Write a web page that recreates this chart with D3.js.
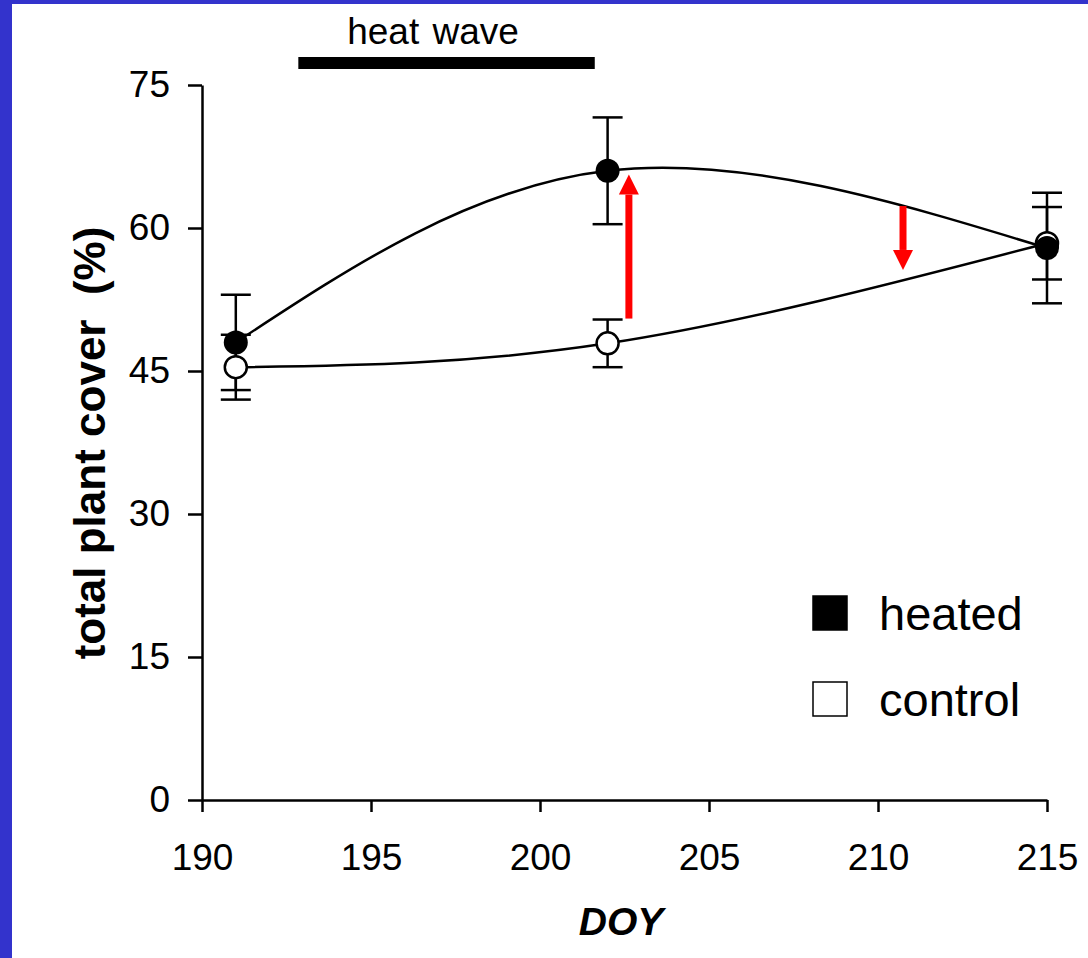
<!DOCTYPE html>
<html>
<head>
<meta charset="utf-8">
<script src="https://cdn.jsdelivr.net/npm/d3@7"></script>
<style>
  body { margin: 0; background: #fff; }
  svg { display: block; font-family: "Liberation Sans", Arial, sans-serif; }
</style>
</head>
<body>
<div id="chart"></div>
<script>
//data
const doy = [191, 202, 215];
const heatedMean = [48.0, 66.0, 57.9];
const heatedErr = [5.0, 5.6, 5.8];
const controlMean = [45.4, 47.9, 58.4];
const controlErr = [3.4, 2.5, 3.8];
const xTicks = [190, 195, 200, 205, 210, 215];
const yTicks = [0, 15, 30, 45, 60, 75];
const heatWave = [192.85, 201.62];
//arrows: [doy, from, to]
const arrows = [[202.63, 50.5, 65.6], [210.74, 62.3, 55.6]];

const W = 1088, H = 958;
const svg = d3.select("#chart").append("svg")
    .attr("width", W).attr("height", H);

//blue frame on the left/top
svg.append("rect").attr("width", W).attr("height", H).attr("fill", "#3333cc");
svg.append("rect").attr("x", 12).attr("y", 4).attr("width", W - 12).attr("height", H - 4).attr("fill", "#fff");

const x = d3.scaleLinear().domain([190, 215]).range([202, 1047]);
const y = d3.scaleLinear().domain([0, 75]).range([800, 85]);

//axes
const xAxis = svg.append("g").attr("transform", "translate(0,800)")
    .call(d3.axisBottom(x).tickValues(xTicks).tickSize(12).tickPadding(32).tickSizeOuter(0));
const yAxis = svg.append("g").attr("transform", "translate(202,0)")
    .call(d3.axisLeft(y).tickValues(yTicks).tickSize(14).tickPadding(18).tickSizeOuter(0));
[xAxis, yAxis].forEach(a => {
    a.selectAll("path, line").attr("stroke", "#000").attr("stroke-width", 2.5);
    a.selectAll("text").attr("font-size", 37).attr("fill", "#000")
        .attr("font-family", "Liberation Sans, Arial, sans-serif");
});

//axis titles
svg.append("text").attr("x", 621).attr("y", 935)
    .attr("text-anchor", "middle").attr("font-size", 39)
    .attr("font-weight", "bold").attr("font-style", "italic").text("DOY");
svg.append("text").attr("transform", "translate(105,443) rotate(-90)")
    .attr("text-anchor", "middle").attr("font-size", 44).attr("font-weight", "bold")
    .attr("xml:space", "preserve").style("white-space", "pre")
    .text("total plant cover  (%)");

//heat wave bar
svg.append("rect").attr("x", x(heatWave[0])).attr("y", 57)
    .attr("width", x(heatWave[1]) - x(heatWave[0])).attr("height", 12).attr("fill", "#000");
svg.append("text").attr("x", 433).attr("y", 44)
    .attr("text-anchor", "middle").attr("font-size", 37).attr("word-spacing", 3).text("heat wave");

//smoothed lines
const line = d3.line().x(d => x(d[0])).y(d => y(d[1])).curve(d3.curveNatural);
[heatedMean, controlMean].forEach(m => {
    svg.append("path").datum(doy.map((d, i) => [d, m[i]]))
        .attr("d", line).attr("fill", "none").attr("stroke", "#000").attr("stroke-width", 2.5);
});

//error bars
function errBars(mean, err) {
    const g = svg.append("g").attr("stroke", "#000").attr("stroke-width", 2.5);
    doy.forEach((d, i) => {
        const cx = x(d), lo = y(mean[i] - err[i]), hi = y(mean[i] + err[i]);
        g.append("line").attr("x1", cx).attr("x2", cx).attr("y1", lo).attr("y2", hi);
        g.append("line").attr("x1", cx - 15).attr("x2", cx + 15).attr("y1", lo).attr("y2", lo);
        g.append("line").attr("x1", cx - 15).attr("x2", cx + 15).attr("y1", hi).attr("y2", hi);
    });
}
errBars(heatedMean, heatedErr);
errBars(controlMean, controlErr);

//points: control first, heated on top
svg.selectAll(".ctrl").data(doy).enter().append("circle")
    .attr("cx", d => x(d)).attr("cy", (d, i) => y(controlMean[i])).attr("r", 11)
    .attr("fill", "#fff").attr("stroke", "#000").attr("stroke-width", 2.5);
svg.selectAll(".heat").data(doy).enter().append("circle")
    .attr("cx", d => x(d)).attr("cy", (d, i) => y(heatedMean[i])).attr("r", 12)
    .attr("fill", "#000");

//red arrows
arrows.forEach(a => {
    const ax = x(a[0]), y0 = y(a[1]), y1 = y(a[2]);
    const dir = y1 < y0 ? 1 : -1;   //1 = pointing up
    const hb = y1 + dir * 20;
    svg.append("line").attr("x1", ax).attr("x2", ax).attr("y1", y0).attr("y2", hb)
        .attr("stroke", "#ff0000").attr("stroke-width", 7);
    svg.append("path")
        .attr("d", `M${ax},${y1} L${ax - 10},${hb} L${ax + 10},${hb} Z`)
        .attr("fill", "#ff0000");
});

//legend
const legend = [["heated", "#000"], ["control", "#fff"]];
legend.forEach((l, i) => {
    const ly = 596 + i * 86;
    svg.append("rect").attr("x", 813).attr("y", ly).attr("width", 34).attr("height", 34)
        .attr("fill", l[1]).attr("stroke", "#000").attr("stroke-width", 1.5);
    svg.append("text").attr("x", 879).attr("y", ly + 34).attr("font-size", 47).text(l[0]);
});
</script>
</body>
</html>
